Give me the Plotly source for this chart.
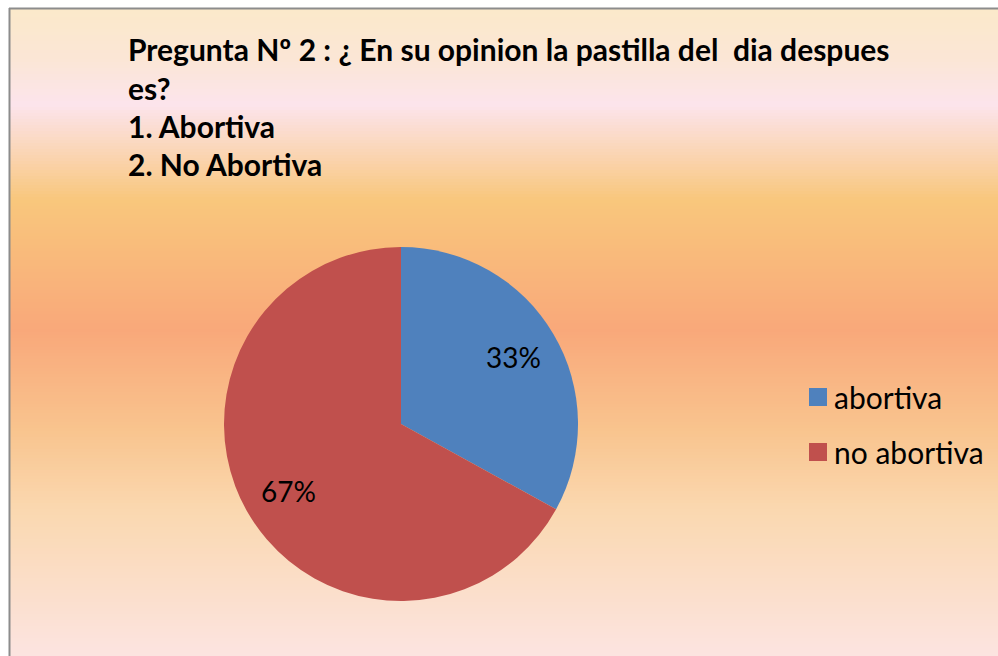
import math
import plotly.graph_objects as go

# ---- data ----
labels = ["abortiva", "no abortiva"]
values = [33, 67]
colors = ["#4F81BD", "#C0504D"]
title_lines = [
    "Pregunta Nº 2 : ¿ En su opinion la pastilla del&nbsp; dia despues",
    "es?",
    "1. Abortiva",
    "2. No Abortiva",
]

# body margin is removed by the post script: figure sits at (0, 0)
OX, OY = 0, 0
W, H = 998, 656
FONT = "Lato"

def px(x):
    return (x - OX) / W

def py(y):
    return 1 - (y - OY) / H

fig = go.Figure()

# ---- background gradient (chart area) ----
stops = [
    (8, (251, 233, 202)),
    (60, (251, 230, 214)),
    (105, (252, 228, 236)),
    (150, (250, 214, 184)),
    (200, (249, 199, 124)),
    (330, (249, 168, 122)),
    (430, (249, 196, 142)),
    (510, (250, 216, 176)),
    (656, (252, 228, 224)),
]

def col_at(y):
    for (y0, c0), (y1, c1) in zip(stops[:-1], stops[1:]):
        if y0 <= y <= y1:
            t = (y - y0) / (y1 - y0)
            return "rgb(%d,%d,%d)" % tuple(round(a + (b - a) * t) for a, b in zip(c0, c1))
    return "rgb(%d,%d,%d)" % stops[-1][1]

shapes = []
step = 3
y = 8
while y < 656:
    y2 = min(y + step, 656)
    shapes.append(dict(type="rect", xref="paper", yref="paper", layer="below",
                       x0=px(10), x1=1.0, y0=max(py(y2), 0), y1=py(y),
                       fillcolor=col_at(y + step / 2), line=dict(width=0)))
    y = y2
# border (left & top)
shapes.append(dict(type="line", xref="paper", yref="paper", x0=px(9.5), x1=px(9.5),
                   y0=0, y1=py(8), line=dict(color="#8C8C8C", width=2), layer="below"))
shapes.append(dict(type="line", xref="paper", yref="paper", x0=px(9), x1=1,
                   y0=py(8.5), y1=py(8.5), line=dict(color="#8C8C8C", width=2), layer="below"))

# ---- pie ----
cx, cy, R = 401, 424, 177
fig.add_trace(go.Pie(
    labels=labels, values=values, sort=False, direction="clockwise", rotation=0,
    marker=dict(colors=colors, line=dict(width=0)),
    textinfo="none", hoverinfo="label+percent", showlegend=False,
    domain=dict(x=[px(cx - R), px(cx + R)], y=[py(cy + R), py(cy - R)]),
))

annotations = []
# percent labels on the bisector of each slice
total = sum(values)
acc = 0
for v in values:
    mid = (acc + v / 2) / total * 2 * math.pi
    acc += v
    r = 0.74 * R
    lx = cx + r * math.sin(mid)
    ly = cy - r * math.cos(mid)
    annotations.append(dict(x=px(lx), y=py(ly), xref="paper", yref="paper",
                            text="%d%%" % round(v / total * 100), showarrow=False,
                            font=dict(family=FONT, size=28, color="#000000"),
                            xanchor="center", yanchor="middle"))

# title lines
for i, line in enumerate(title_lines):
    annotations.append(dict(x=px(126), y=py(49 + 38.5 * i), xref="paper", yref="paper",
                            text="<b>%s</b>" % line, showarrow=False, xanchor="left",
                            yanchor="middle", font=dict(family=FONT, size=30, color="#000000")))

# custom legend
for i, (lab, c) in enumerate(zip(labels, colors)):
    ly = 397 + 55 * i
    shapes.append(dict(type="rect", xref="paper", yref="paper",
                       x0=px(809), x1=px(827), y0=py(ly + 9), y1=py(ly - 9),
                       fillcolor=c, line=dict(width=0)))
    annotations.append(dict(x=px(832), y=py(ly), xref="paper", yref="paper", text=lab,
                            showarrow=False, xanchor="left", yanchor="middle",
                            font=dict(family=FONT, size=30, color="#000000")))

fig.update_layout(
    width=W, height=H, margin=dict(l=0, r=0, t=0, b=0),
    paper_bgcolor="white", plot_bgcolor="rgba(0,0,0,0)",
    shapes=shapes, annotations=annotations, showlegend=False,
)
fig.write_html(
    "out.html",
    config={"displayModeBar": False},
    post_script="document.body.style.margin='0';"
                "document.documentElement.style.overflow='hidden';"
                "document.body.style.overflow='hidden';",
)
